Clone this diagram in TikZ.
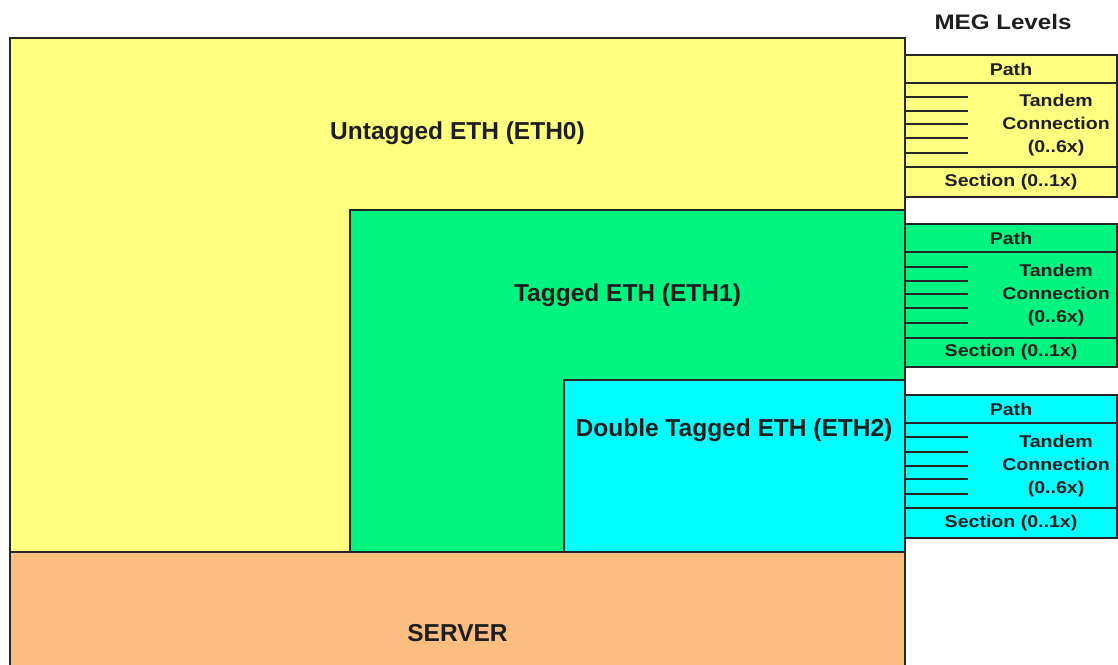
\documentclass[tikz,border=0pt]{standalone}
\usepackage{fontspec}
\setmainfont{Liberation Sans}
\newfontfamily\megfont[FakeStretch=1.15]{Liberation Sans}
\definecolor{ethyellow}{RGB}{255,255,128}
\definecolor{ethgreen}{RGB}{0,245,128}
\definecolor{ethcyan}{RGB}{0,255,255}
\definecolor{serverorange}{RGB}{252,190,128}
\definecolor{textdark}{RGB}{30,30,30}
\tikzset{
  boxline/.style={draw=black!85,line width=1.6pt},
  ethlabel/.style={font=\fontsize{24.5}{28}\selectfont\bfseries,text=textdark,inner sep=0pt},
  meglabel/.style={font=\megfont\fontsize{17}{23}\selectfont\bfseries,text=textdark,inner sep=0pt,align=center},
  megtitle/.style={font=\megfont\fontsize{21}{24}\selectfont\bfseries,text=textdark,inner sep=0pt}
}
\begin{document}
\begin{tikzpicture}[x=1pt,y=-1pt]
	   \useasboundingbox (0,0) rectangle (1118,664);
	   \fill [white] (0,0) rectangle (1118,664);
	   % main layers
	   \fill [ethyellow]    (10,38) -- (905,38) -- (905,552) -- (10,552) -- cycle;
	   \fill [ethgreen]     (350,210) -- (905,210) -- (905,552) -- (350,552) -- cycle;
	   \fill [ethcyan]      (564,380) -- (905,380) -- (905,552) -- (564,552) -- cycle;
	   \fill [serverorange] (10,552) -- (905,552) -- (905,670) -- (10,670) -- cycle;
	   \draw [boxline] (10,38) rectangle (905,670);
	   \draw [boxline] (350,552) -- (350,210) -- (905,210);
	   \draw [boxline] (564,552) -- (564,380) -- (905,380);
	   \draw [boxline] (10,552) -- (905,552);
	   % MEG level stacks
	   \fill [ethyellow] (905,55) rectangle (1117,197);
	   \fill [ethgreen]  (905,224) rectangle (1117,367);
	   \fill [ethcyan]   (905,395) rectangle (1117,538);
	   \draw [boxline] (905,55) rectangle (1117,197);
	   \draw [boxline] (905,224) rectangle (1117,367);
	   \draw [boxline] (905,395) rectangle (1117,538);
	   \draw [boxline] (905,83) -- (1117,83);
	   \draw [boxline] (905,167) -- (1117,167);
	   \draw [boxline] (905,252) -- (1117,252);
	   \draw [boxline] (905,338) -- (1117,338);
	   \draw [boxline] (905,423) -- (1117,423);
	   \draw [boxline] (905,508) -- (1117,508);
	   % tandem connection sub levels
	   \draw [boxline] (905,97) -- (968,97);
	   \draw [boxline] (905,111) -- (968,111);
	   \draw [boxline] (905,124) -- (968,124);
	   \draw [boxline] (905,138) -- (968,138);
	   \draw [boxline] (905,153) -- (968,153);
	   \draw [boxline] (905,267) -- (968,267);
	   \draw [boxline] (905,281) -- (968,281);
	   \draw [boxline] (905,294) -- (968,294);
	   \draw [boxline] (905,308) -- (968,308);
	   \draw [boxline] (905,323) -- (968,323);
	   \draw [boxline] (905,437) -- (968,437);
	   \draw [boxline] (905,452) -- (968,452);
	   \draw [boxline] (905,466) -- (968,466);
	   \draw [boxline] (905,479) -- (968,479);
	   \draw [boxline] (905,494) -- (968,494);
	   % labels
	   \node [ethlabel] (eth0) at (457.5,133) {Untagged ETH (ETH0)};
	   \node [ethlabel] (eth1) at (627.5,295) {Tagged ETH (ETH1)};
	   \node [ethlabel] (eth2) at (734,430) {Double Tagged ETH (ETH2)};
	   \node [ethlabel] (server) at (457.5,633) {SERVER};
	   \node [megtitle] (meglevels) at (1003,22) {MEG Levels};
	   \node [meglabel] (path0) at (1011,69) {Path};
	   \node [meglabel] (tandem0) at (1056,125) {Tandem\\Connection\\(0..6x)};
	   \node [meglabel] (section0) at (1011,182) {Section (0..1x)};
	   \node [meglabel] (path1) at (1011,238) {Path};
	   \node [meglabel] (tandem1) at (1056,295) {Tandem\\Connection\\(0..6x)};
	   \node [meglabel] (section1) at (1011,352.5) {Section (0..1x)};
	   \node [meglabel] (path2) at (1011,409) {Path};
	   \node [meglabel] (tandem2) at (1056,466) {Tandem\\Connection\\(0..6x)};
	   \node [meglabel] (section2) at (1011,523) {Section (0..1x)};
	\end{tikzpicture}
\end{document}
